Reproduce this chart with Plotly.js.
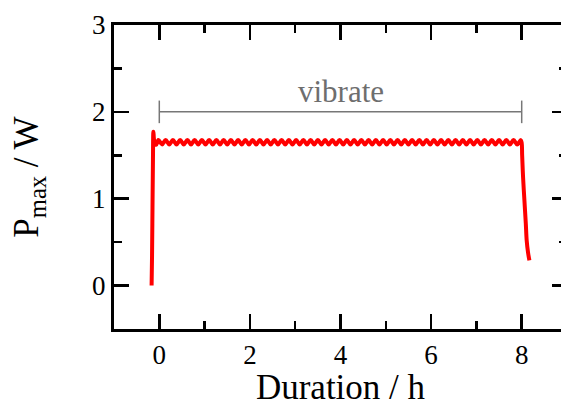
<!DOCTYPE html>
<html>
<head>
<meta charset="utf-8">
<script src="https://cdn.plot.ly/plotly-3.0.1.min.js"></script>
<style>
html, body { margin: 0; padding: 0; overflow: hidden; background: #fff; }
#chart { width: 572px; height: 407px; }
</style>
</head>
<body>
<div id="chart"></div>
<script>
// Duration (h) and maximum power (W)
const startX = [-0.17, -0.16, -0.15, -0.14, -0.13, -0.11, -0.07];
const startY = [0.00, 0.35, 0.90, 1.45, 1.77, 1.66, 1.62];

const plateauX = [
  -0.02, 0.06, 0.14, 0.22, 0.30, 0.38, 0.46, 0.54, 0.62, 0.70,
  0.78, 0.86, 0.94, 1.02, 1.10, 1.18, 1.26, 1.34, 1.42, 1.50,
  1.58, 1.66, 1.74, 1.82, 1.90, 1.98, 2.06, 2.14, 2.22, 2.30,
  2.38, 2.46, 2.54, 2.62, 2.70, 2.78, 2.86, 2.94, 3.02, 3.10,
  3.18, 3.26, 3.34, 3.42, 3.50, 3.58, 3.66, 3.74, 3.82, 3.90,
  3.98, 4.06, 4.14, 4.22, 4.30, 4.38, 4.46, 4.54, 4.62, 4.70,
  4.78, 4.86, 4.94, 5.02, 5.10, 5.18, 5.26, 5.34, 5.42, 5.50,
  5.58, 5.66, 5.74, 5.82, 5.90, 5.98, 6.06, 6.14, 6.22, 6.30,
  6.38, 6.46, 6.54, 6.62, 6.70, 6.78, 6.86, 6.94, 7.02, 7.10,
  7.18, 7.26, 7.34, 7.42, 7.50, 7.58, 7.66, 7.74, 7.82, 7.90,
  7.98
];
const plateauY = [
  1.675, 1.625, 1.675, 1.625, 1.675, 1.625, 1.675, 1.625, 1.675, 1.625,
  1.675, 1.625, 1.675, 1.625, 1.675, 1.625, 1.675, 1.625, 1.675, 1.625,
  1.675, 1.625, 1.675, 1.625, 1.675, 1.625, 1.675, 1.625, 1.675, 1.625,
  1.675, 1.625, 1.675, 1.625, 1.675, 1.625, 1.675, 1.625, 1.675, 1.625,
  1.675, 1.625, 1.675, 1.625, 1.675, 1.625, 1.675, 1.625, 1.675, 1.625,
  1.675, 1.625, 1.675, 1.625, 1.675, 1.625, 1.675, 1.625, 1.675, 1.625,
  1.675, 1.625, 1.675, 1.625, 1.675, 1.625, 1.675, 1.625, 1.675, 1.625,
  1.675, 1.625, 1.675, 1.625, 1.675, 1.625, 1.675, 1.625, 1.675, 1.625,
  1.675, 1.625, 1.675, 1.625, 1.675, 1.625, 1.675, 1.625, 1.675, 1.625,
  1.675, 1.625, 1.675, 1.625, 1.675, 1.625, 1.675, 1.625, 1.675, 1.625,
  1.675
];

const endX = [8.00, 8.01, 8.03, 8.06, 8.09, 8.11, 8.14, 8.17];
const endY = [1.64, 1.50, 1.25, 0.98, 0.72, 0.52, 0.38, 0.29];

// "vibrate" period marker
const vibrateStart = 0;
const vibrateEnd = 8;
const vibrateLevel = 2;
const vibrateLabel = "vibrate";

const xTickVals = [0, 2, 4, 6, 8];
const yTickVals = [0, 1, 2, 3];

const durationX = startX.concat(plateauX, endX);
const powerY = startY.concat(plateauY, endY);

const serif = "Liberation Serif";
const capHalf = 0.13;
const gray = "#777777";

const data = [{
  x: durationX,
  y: powerY,
  type: "scatter",
  mode: "lines",
  line: { color: "#ff0000", width: 4, shape: "spline", smoothing: 1 },
  hoverinfo: "x+y"
}];

const axisCommon = {
  showgrid: false,
  zeroline: false,
  showline: true,
  linecolor: "#000",
  linewidth: 3,
  mirror: "allticks",
  ticks: "inside",
  ticklen: 15,
  tickwidth: 2.5,
  tickcolor: "#000",
  tickfont: { family: serif, size: 27, color: "#000" }
};

const layout = {
  width: 572,
  height: 407,
  margin: { l: 114, r: 5, t: 25, b: 78 },
  paper_bgcolor: "#fff",
  plot_bgcolor: "#fff",
  showlegend: false,
  font: { family: serif },
  xaxis: Object.assign({}, axisCommon, {
    range: [-1, 9],
    tickvals: xTickVals,
    ticktext: xTickVals.map(String),
    minor: { dtick: 1, tick0: 0, ticks: "inside", ticklen: 8, tickwidth: 2.5, tickcolor: "#000" },
    title: { text: "Duration / h", font: { family: serif, size: 35, color: "#000" }, standoff: 23 }
  }),
  yaxis: Object.assign({}, axisCommon, {
    range: [-0.5, 3],
    tickvals: yTickVals,
    ticktext: yTickVals.map(String),
    minor: { dtick: 0.5, tick0: 0, ticks: "inside", ticklen: 8, tickwidth: 2.5, tickcolor: "#000" },
    title: { text: "P<sub>max</sub> / W", font: { family: serif, size: 35, color: "#000" }, standoff: 43 }
  }),
  shapes: [
    { type: "line", xref: "x", yref: "y", x0: vibrateStart, x1: vibrateEnd, y0: vibrateLevel, y1: vibrateLevel, line: { color: gray, width: 1.5 } },
    { type: "line", xref: "x", yref: "y", x0: vibrateStart, x1: vibrateStart, y0: vibrateLevel - capHalf, y1: vibrateLevel + capHalf, line: { color: gray, width: 1.5 } },
    { type: "line", xref: "x", yref: "y", x0: vibrateEnd, x1: vibrateEnd, y0: vibrateLevel - capHalf, y1: vibrateLevel + capHalf, line: { color: gray, width: 1.5 } }
  ],
  annotations: [{
    xref: "x", yref: "y",
    x: (vibrateStart + vibrateEnd) / 2, y: vibrateLevel,
    text: vibrateLabel,
    showarrow: false,
    xanchor: "center", yanchor: "bottom",
    yshift: 1,
    font: { family: serif, size: 31, color: "#6e6e6e" }
  }]
};

Plotly.newPlot("chart", data, layout, { displayModeBar: false, staticPlot: true });
</script>
</body>
</html>
